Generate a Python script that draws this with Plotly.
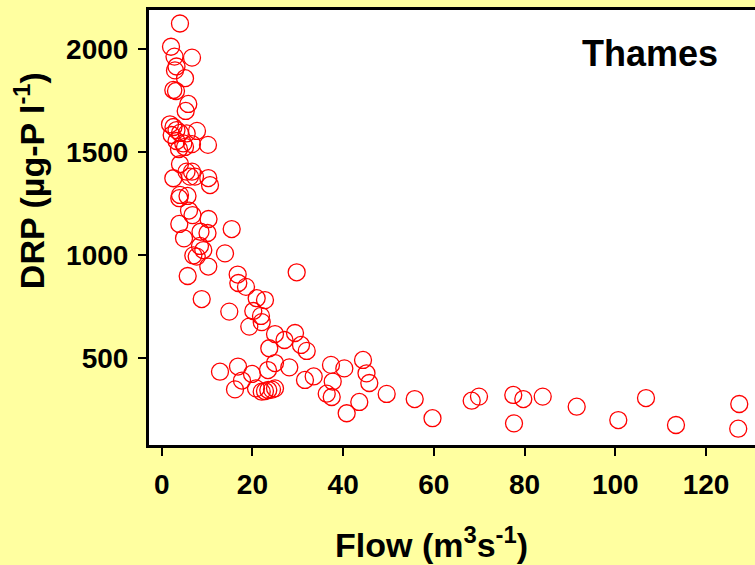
import plotly.graph_objects as go

# Flow (m3 s-1) and DRP (ug-P l-1)
flow = [4.03, 2.05, 2.82, 6.68, 3.26, 2.93, 5.14, 2.56, 3.15, 5.86,
        5.29, 1.83, 2.60, 3.26, 2.20, 4.03, 5.51, 7.78, 3.26, 4.76,
        6.68, 10.2, 3.81, 5.14, 4.03, 5.47, 6.68, 6.24, 7.34, 2.56,
        10.27, 10.65, 4.03, 3.88, 5.69, 6.02, 6.79, 10.32, 3.88, 15.43,
        8.55, 10.10, 4.92, 8.44, 9.17, 13.95, 6.97, 7.72, 10.27, 5.73,
        16.75, 29.76, 16.89, 18.58, 8.82, 14.90, 20.94, 22.77, 20.19, 21.89,
        19.31, 22.05, 24.98, 27.07, 29.39, 30.71, 31.97, 23.72, 24.98, 23.43,
        28.13, 12.85, 16.82, 19.91, 17.70, 16.16, 20.79, 22.05, 22.77, 23.50,
        24.32, 24.98, 31.59, 33.51, 37.32, 40.26, 37.70, 36.38, 37.48, 44.38,
        45.15, 45.77, 49.60, 43.56, 40.78, 55.78, 59.70, 68.34, 69.95, 77.51,
        79.72, 77.67, 84.0, 91.49, 100.66, 106.77, 113.38, 127.33, 127.1]

drp = [2124, 2011, 1963, 1958, 1915, 1896, 1858, 1801, 1796, 1733,
       1699, 1634, 1621, 1606, 1582, 1592, 1590, 1602, 1553, 1541,
       1538, 1534, 1514, 1524, 1441, 1404, 1404, 1380, 1380, 1372,
       1373, 1339, 1291, 1275, 1286, 1215, 1193, 1174, 1150, 1125,
       1112, 1106, 1080, 1043, 1023, 1007, 997, 991, 943, 897,
       904, 915, 863, 844, 785, 724, 789, 780, 727, 703,
       651, 673, 615, 586, 620, 562, 533, 546, 474, 440,
       453, 432, 457, 421, 389, 346, 351, 335, 338, 343,
       345, 351, 392, 409, 465, 448, 384, 325, 309, 489,
       424, 377, 324, 285, 230, 299, 206, 291, 311, 319,
       299, 181, 311, 262, 197, 304, 173, 275, 155]

x_ticks = [0, 20, 40, 60, 80, 100, 120]
y_ticks = [500, 1000, 1500, 2000]

FONT = "Arial, 'Liberation Sans', sans-serif"
BG = "#FFFFA0"

fig = go.Figure()
fig.add_trace(go.Scatter(
    x=flow, y=drp, mode="markers",
    marker=dict(symbol="circle-open", size=17, color="#FF0000",
                line=dict(width=1.3, color="#FF0000")),
    showlegend=False, hoverinfo="x+y"))

fig.update_layout(
    width=755, height=565,
    margin=dict(l=149, r=0, t=10, b=120),
    paper_bgcolor=BG, plot_bgcolor="white",
    font=dict(family=FONT, color="black"),
    xaxis=dict(range=[-2.8, 130.8], tickvals=x_ticks,
               showline=True, linecolor="black", linewidth=3, mirror=True,
               ticks="outside", ticklen=8, tickwidth=1.5, tickcolor="black",
               showgrid=False, zeroline=False,
               tickfont=dict(size=28, family=FONT, weight="bold"),
               ticklabelstandoff=4),
    yaxis=dict(range=[75.8, 2189.5], tickvals=y_ticks,
               showline=True, linecolor="black", linewidth=3, mirror=False,
               ticks="outside", ticklen=8, tickwidth=1.5, tickcolor="black",
               showgrid=False, zeroline=False,
               tickfont=dict(size=28, family=FONT, weight="bold"),
               ticklabelstandoff=4),
    annotations=[
        dict(text="<b>Thames</b>", xref="paper", yref="paper",
             x=0.826, y=0.90, xanchor="center", yanchor="middle",
             showarrow=False, font=dict(size=36, family=FONT, color="black")),
        dict(text="<b>Flow (m<sup>3</sup>s<sup>-1</sup>)</b>", xref="paper", yref="paper",
             x=0.466, y=-0.225, xanchor="center", yanchor="middle",
             showarrow=False, font=dict(size=34, family=FONT, color="black")),
        dict(text="<b>DRP (µg-P l<sup>-1</sup>)</b>", xref="paper", yref="paper",
             x=-0.197, y=0.608, xanchor="center", yanchor="middle", textangle=-90,
             showarrow=False, font=dict(size=34, family=FONT, color="black")),
    ],
)

fig.write_html("out.html")
